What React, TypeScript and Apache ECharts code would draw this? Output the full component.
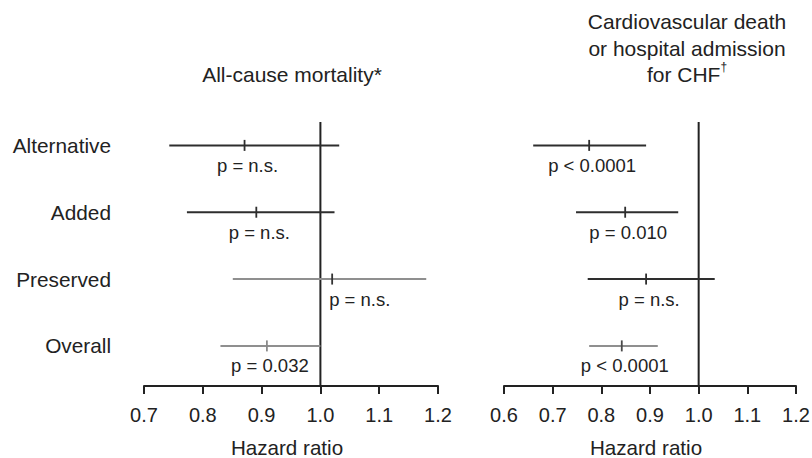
import React, { useEffect, useRef } from 'react';
import * as echarts from 'echarts';

// ---- data ----
const categories = ['Alternative', 'Added', 'Preserved', 'Overall'];

const mortalityHR = [0.871, 0.891, 1.02, 0.909];
const mortalityLower = [0.743, 0.773, 0.851, 0.83];
const mortalityUpper = [1.032, 1.024, 1.18, 1.0];
const mortalityP = ['p = n.s.', 'p = n.s.', 'p = n.s.', 'p = 0.032'];

const cvHR = [0.775, 0.849, 0.892, 0.842];
const cvLower = [0.66, 0.748, 0.772, 0.775];
const cvUpper = [0.892, 0.958, 1.033, 0.916];
const cvP = ['p < 0.0001', 'p = 0.010', 'p = n.s.', 'p < 0.0001'];

const mortalityTicks = [0.7, 0.8, 0.9, 1.0, 1.1, 1.2];
const cvTicks = [0.6, 0.7, 0.8, 0.9, 1.0, 1.1, 1.2];

const mortalityTitle = 'All-cause mortality*';
const cvTitle = 'Cardiovascular death\nor hospital admission\nfor CHF{sup|†}';
const axisTitle = 'Hazard ratio';

// ---- styles ----
const FONT = '"Liberation Sans", Arial, Helvetica, sans-serif';
const TEXT = '#222222';
const DARK = '#2e2e2e';
const GREY = '#8f8f8f';
const mortalityLineColors = [DARK, DARK, GREY, GREY];
const mortalityTickColors = [DARK, DARK, '#333333', '#8a8a8a'];
const cvLineColors = [DARK, DARK, DARK, GREY];
const cvTickColors = [DARK, DARK, DARK, '#4a4a4a'];

const Y_MIN = 0.4;
const Y_MAX = 4.35;

function rowY(i: number) {
  return categories.length - i;
}

function makeRenderer(
  hr: number[],
  pText: string[],
  lineColors: string[],
  tickColors: string[],
  xMin: number,
  withCategories: boolean
) {
  return (params: any, api: any) => {
    const i = params.dataIndex;
    const y = api.value(3);
    const lo = api.coord([api.value(0), y]);
    const mid = api.coord([api.value(1), y]);
    const hi = api.coord([api.value(2), y]);
    const crossesRef = hr[i] > 1;
    const children: any[] = [
      {
        type: 'line',
        shape: { x1: lo[0], y1: lo[1], x2: hi[0], y2: hi[1] },
        style: { stroke: lineColors[i], lineWidth: 2 },
      },
      {
        type: 'line',
        shape: { x1: mid[0], y1: mid[1] - 5.5, x2: mid[0], y2: mid[1] + 5.5 },
        style: { stroke: tickColors[i], lineWidth: 1.8 },
      },
      {
        type: 'text',
        x: crossesRef ? mid[0] - 3 : mid[0] + 3,
        y: mid[1] + 20,
        style: {
          text: pText[i],
          fill: TEXT,
          fontSize: 18.5,
          fontFamily: FONT,
          align: crossesRef ? 'left' : 'center',
          verticalAlign: 'middle',
        },
      },
    ];
    if (withCategories) {
      const start = api.coord([xMin, y]);
      children.push({
        type: 'text',
        x: start[0] - 33,
        y: start[1],
        style: {
          text: categories[i],
          fill: TEXT,
          fontSize: 20.8,
          fontFamily: FONT,
          align: 'right',
          verticalAlign: 'middle',
        },
      });
    }
    return { type: 'group', children };
  };
}

function xAxisFor(ticks: number[], gridIndex: number) {
  return {
    type: 'value',
    gridIndex,
    min: ticks[0],
    max: ticks[ticks.length - 1],
    interval: 0.1,
    name: axisTitle,
    nameLocation: 'middle',
    nameGap: 52,
    nameTextStyle: { fontSize: 20.6, lineHeight: 19, color: TEXT, fontFamily: FONT, padding: [0, 8, 0, 0] },
    axisLine: { show: true, lineStyle: { color: TEXT, width: 2 } },
    axisTick: { show: true, length: 8, lineStyle: { color: TEXT, width: 2 } },
    axisLabel: {
      fontSize: 20,
      color: TEXT,
      fontFamily: FONT,
      margin: 18.5,
      formatter: (v: number) => v.toFixed(1),
    },
    splitLine: { show: false },
  };
}

function yAxisFor(gridIndex: number) {
  return { type: 'value', gridIndex, min: Y_MIN, max: Y_MAX, show: false };
}

export default function App() {
  const ref = useRef<HTMLDivElement>(null);
  useEffect(() => {
    if (!ref.current) return;
    const chart = echarts.init(ref.current, null, { renderer: 'svg' });
    const mortalityData = categories.map((_, i) => [mortalityLower[i], mortalityHR[i], mortalityUpper[i], rowY(i)]);
    const cvData = categories.map((_, i) => [cvLower[i], cvHR[i], cvUpper[i], rowY(i)]);
    chart.setOption({
      animation: false,
      backgroundColor: '#ffffff',
      grid: [
        { left: 144, width: 294, top: 122, height: 264, outerBoundsMode: 'none', containLabel: false },
        { left: 504, width: 292, top: 122, height: 264, outerBoundsMode: 'none', containLabel: false },
      ],
      xAxis: [xAxisFor(mortalityTicks, 0), xAxisFor(cvTicks, 1)],
      yAxis: [yAxisFor(0), yAxisFor(1)],
      graphic: [
        {
          type: 'text',
          x: 292,
          y: 74,
          style: {
            text: mortalityTitle,
            fill: TEXT,
            fontSize: 21,
            fontFamily: FONT,
            align: 'center',
            verticalAlign: 'middle',
          },
        },
        {
          type: 'text',
          x: 687,
          y: 48,
          style: {
            text: cvTitle,
            fill: TEXT,
            fontSize: 21,
            fontFamily: FONT,
            lineHeight: 26.7,
            align: 'center',
            verticalAlign: 'middle',
            rich: {
              sup: { fontSize: 12, fontFamily: FONT, fill: TEXT, verticalAlign: 'top', lineHeight: 26.7, padding: [0, 0, 4, 0] },
            },
          },
        },
      ],
      series: [
        {
          type: 'line',
          xAxisIndex: 0,
          yAxisIndex: 0,
          data: [[1, Y_MIN], [1, Y_MAX]],
          symbol: 'none',
          lineStyle: { color: TEXT, width: 2 },
          z: 1,
        },
        {
          type: 'line',
          xAxisIndex: 1,
          yAxisIndex: 1,
          data: [[1, Y_MIN], [1, Y_MAX]],
          symbol: 'none',
          lineStyle: { color: TEXT, width: 2 },
          z: 1,
        },
        {
          type: 'custom',
          xAxisIndex: 0,
          yAxisIndex: 0,
          data: mortalityData,
          encode: { x: [0, 1, 2], y: 3 },
          renderItem: makeRenderer(mortalityHR, mortalityP, mortalityLineColors, mortalityTickColors, mortalityTicks[0], true),
          z: 2,
        },
        {
          type: 'custom',
          xAxisIndex: 1,
          yAxisIndex: 1,
          data: cvData,
          encode: { x: [0, 1, 2], y: 3 },
          renderItem: makeRenderer(cvHR, cvP, cvLineColors, cvTickColors, cvTicks[0], false),
          z: 2,
        },
      ],
    });
    return () => chart.dispose();
  }, []);
  return <div ref={ref} style={{ position: 'fixed', left: 0, top: 0, width: 812, height: 458, background: '#fff' }} />;
}
